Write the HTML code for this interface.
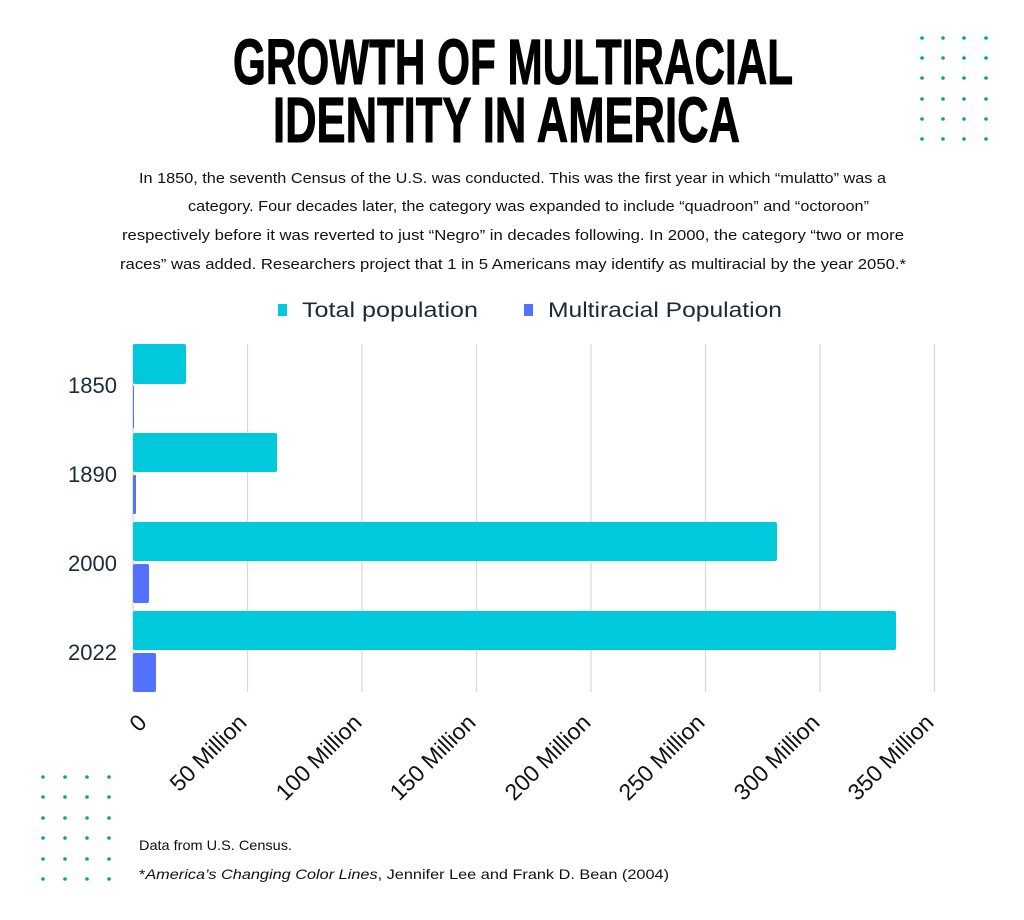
<!DOCTYPE html>
<html><head><meta charset="utf-8"><style>
body{margin:0;background:#fff;width:1024px;height:920px;overflow:hidden}
svg{display:block}
</style></head><body>
<svg width="1024" height="920" viewBox="0 0 1024 920" xmlns="http://www.w3.org/2000/svg">
<g fill="#0e9d9a">
<g id="dr">
<circle cx="922" cy="38" r="1.8"/><circle cx="943" cy="38" r="1.8"/><circle cx="964" cy="38" r="1.8"/><circle cx="986" cy="38" r="1.8"/>
</g>
<use href="#dr" y="20"/><use href="#dr" y="40"/><use href="#dr" y="61"/><use href="#dr" y="81"/><use href="#dr" y="101"/>
<g id="dl">
<circle cx="43" cy="777" r="1.8"/><circle cx="65" cy="777" r="1.8"/><circle cx="87" cy="777" r="1.8"/><circle cx="109" cy="777" r="1.8"/>
</g>
<use href="#dl" y="20"/><use href="#dl" y="41"/><use href="#dl" y="61"/><use href="#dl" y="82"/><use href="#dl" y="102"/>
</g>
<g font-family="Liberation Sans, sans-serif" font-weight="bold" font-size="64" fill="#000">
<text x="233" y="84" textLength="560" lengthAdjust="spacingAndGlyphs" stroke="#000" stroke-width="1">GROWTH OF MULTIRACIAL</text>
<text x="273" y="142" textLength="467" lengthAdjust="spacingAndGlyphs" stroke="#000" stroke-width="1">IDENTITY IN AMERICA</text>
</g>
<g font-family="Liberation Sans, sans-serif" font-size="15" fill="#111">
<text x="139" y="183" textLength="747" lengthAdjust="spacingAndGlyphs">In 1850, the seventh Census of the U.S. was conducted. This was the first year in which “mulatto” was a</text>
<text x="188" y="211" textLength="681" lengthAdjust="spacingAndGlyphs">category. Four decades later, the category was expanded to include “quadroon” and “octoroon”</text>
<text x="122" y="240" textLength="782" lengthAdjust="spacingAndGlyphs">respectively before it was reverted to just “Negro” in decades following. In 2000, the category “two or more</text>
<text x="120" y="269" textLength="786" lengthAdjust="spacingAndGlyphs">races” was added. Researchers project that 1 in 5 Americans may identify as multiracial by the year 2050.*</text>
</g>
<rect x="278" y="304" width="9" height="12" fill="#00c9db"/>
<rect x="524" y="304" width="9" height="12" fill="#5271ff"/>
<g font-family="Liberation Sans, sans-serif" font-size="21" fill="#1b2a3a">
<text x="302" y="317" textLength="176" lengthAdjust="spacingAndGlyphs">Total population</text>
<text x="548" y="317" textLength="234" lengthAdjust="spacingAndGlyphs">Multiracial Population</text>
</g>
<g stroke="#d8dadd" stroke-width="1.3">
<line x1="247.5" y1="344" x2="247.5" y2="692"/><line x1="362" y1="344" x2="362" y2="692"/>
<line x1="476.5" y1="344" x2="476.5" y2="692"/><line x1="591" y1="344" x2="591" y2="692"/>
<line x1="705.5" y1="344" x2="705.5" y2="692"/><line x1="820" y1="344" x2="820" y2="692"/>
<line x1="934.5" y1="344" x2="934.5" y2="692"/>
</g>
<line x1="133" y1="344" x2="133" y2="692" stroke="#c9ccd0" stroke-width="1"/>
<g fill="#00c9db">
<rect x="133" y="344" width="53" height="40" rx="2"/>
<rect x="133" y="433" width="144" height="39" rx="2"/>
<rect x="133" y="522" width="644" height="39" rx="2"/>
<rect x="133" y="611" width="763" height="39" rx="2"/>
</g>
<g fill="#5271ff">
<rect x="133" y="386" width="1" height="42"/>
<rect x="133" y="475" width="3" height="39" rx="1"/>
<rect x="133" y="564" width="16" height="39" rx="2"/>
<rect x="133" y="653" width="23" height="39" rx="2"/>
</g>
<g font-family="Liberation Sans, sans-serif" font-size="22" fill="#1b2a3a" text-anchor="end">
<text x="117" y="393">1850</text><text x="117" y="482">1890</text>
<text x="117" y="571">2000</text><text x="117" y="660">2022</text>
</g>
<g font-family="Liberation Sans, sans-serif" font-size="23" fill="#111" text-anchor="end">
<text transform="translate(148,724) rotate(-45)">0</text>
<text transform="translate(248,724) rotate(-45)">50 Million</text>
<text transform="translate(363,724) rotate(-45)">100 Million</text>
<text transform="translate(477,724) rotate(-45)">150 Million</text>
<text transform="translate(592,724) rotate(-45)">200 Million</text>
<text transform="translate(706,724) rotate(-45)">250 Million</text>
<text transform="translate(821,724) rotate(-45)">300 Million</text>
<text transform="translate(935,724) rotate(-45)">350 Million</text>
</g>
<g font-family="Liberation Sans, sans-serif" font-size="14" fill="#111">
<text x="139" y="850" textLength="153" lengthAdjust="spacingAndGlyphs">Data from U.S. Census.</text>
<text x="139" y="879" textLength="530" lengthAdjust="spacingAndGlyphs">*<tspan font-style="italic">America’s Changing Color Lines</tspan>, Jennifer Lee and Frank D. Bean (2004)</text>
</g>
</svg>
</body></html>
